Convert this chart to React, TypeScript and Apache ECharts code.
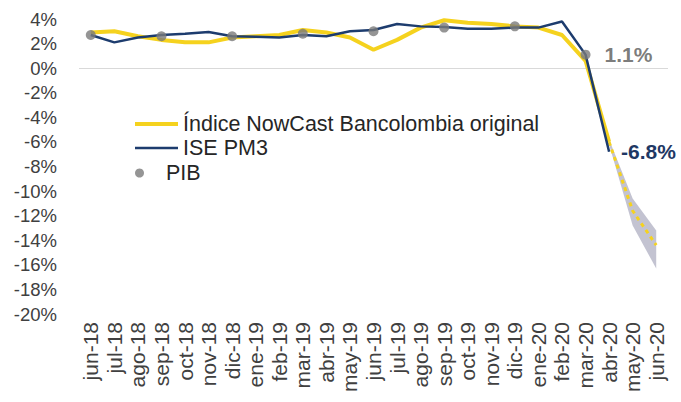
import React, { useEffect, useRef } from "react";
import * as echarts from "echarts";

const months = [
  "jun-18", "jul-18", "ago-18", "sep-18", "oct-18", "nov-18", "dic-18",
  "ene-19", "feb-19", "mar-19", "abr-19", "may-19", "jun-19", "jul-19",
  "ago-19", "sep-19", "oct-19", "nov-19", "dic-19", "ene-20", "feb-20",
  "mar-20", "abr-20", "may-20", "jun-20",
];

const nowcast = [
  2.9, 3.0, 2.6, 2.3, 2.1, 2.1, 2.5, 2.6, 2.7, 3.1, 2.9, 2.5, 1.5, 2.3,
  3.3, 3.9, 3.7, 3.6, 3.4, 3.3, 2.7, 0.6, -6.0, null, null,
];

const ise = [
  2.7, 2.1, 2.5, 2.7, 2.8, 2.95, 2.6, 2.55, 2.5, 2.7, 2.6, 3.0, 3.1, 3.6,
  3.4, 3.35, 3.2, 3.2, 3.3, 3.3, 3.8, 1.1, -6.8, null, null,
];

const pibMonths = ["jun-18", "sep-18", "dic-18", "mar-19", "jun-19", "sep-19", "dic-19", "mar-20"];
const pibValues = [2.7, 2.6, 2.6, 2.8, 3.0, 3.3, 3.4, 1.1];

const forecastMonths = ["abr-20", "may-20", "jun-20"];
const forecastCenter = [-6.0, -11.6, -14.4];
const forecastLow = [-6.2, -12.8, -16.3];
const forecastHigh = [-5.8, -10.6, -13.2];

const yTicks = { min: -20, max: 4, interval: 2 };

const FONT = "Liberation Sans, Arial, sans-serif";
const YELLOW = "#f5d21e";
const NAVY = "#1d3c6e";

export default function App() {
  const ref = useRef<HTMLDivElement>(null);

  useEffect(() => {
    document.body.style.margin = "0";
    if (!ref.current) return;
    const chart = echarts.init(ref.current, undefined, { renderer: "svg" });

    const align = (vals: number[]) =>
      months.map((m) => {
        const i = forecastMonths.indexOf(m);
        return i >= 0 ? vals[i] : null;
      });
    const bandBase = align(forecastLow);
    const bandWidth = align(forecastHigh.map((h, i) => h - forecastLow[i]));
    const center = align(forecastCenter);

    const legendText = { fontSize: 21.5, color: "#262626", fontFamily: FONT };

    chart.setOption({
      animation: false,
      textStyle: { fontFamily: FONT },
      grid: { left: 79, right: 13, top: 19, bottom: 88, containLabel: false },
      legend: [
        {
          data: [{ name: "Índice NowCast Bancolombia original", icon: "rect" }],
          left: 135,
          top: 113,
          padding: 0,
          itemWidth: 43,
          itemHeight: 4,
          selectedMode: false,
          textStyle: legendText,
        },
        {
          data: [{ name: "ISE PM3", icon: "rect" }],
          left: 135,
          top: 137,
          padding: 0,
          itemWidth: 43,
          itemHeight: 2.5,
          selectedMode: false,
          textStyle: legendText,
        },
        {
          data: [{ name: "PIB", icon: "circle" }],
          left: 135,
          top: 162,
          padding: 0,
          itemWidth: 43,
          itemHeight: 9,
          selectedMode: false,
          textStyle: legendText,
        },
      ],
      xAxis: {
        type: "category",
        data: months,
        boundaryGap: true,
        axisLine: { show: false },
        axisTick: { show: false },
        axisLabel: {
          rotate: 90,
          interval: 0,
          fontSize: 21,
          margin: 8,
          color: "#404040",
          fontFamily: FONT,
        },
      },
      yAxis: {
        type: "value",
        min: yTicks.min,
        max: yTicks.max,
        interval: yTicks.interval,
        axisLine: { show: false },
        axisTick: { show: false },
        splitLine: { show: false },
        axisLabel: {
          formatter: "{value}%",
          fontSize: 18.5,
          margin: 22,
          color: "#404040",
          fontFamily: FONT,
        },
      },
      series: [
        {
          name: "bandBase",
          type: "line",
          stack: "band",
          stackStrategy: "all",
          data: bandBase,
          symbol: "none",
          lineStyle: { width: 0, opacity: 0 },
          areaStyle: { opacity: 0 },
          z: 1,
        },
        {
          name: "bandWidth",
          type: "line",
          stack: "band",
          stackStrategy: "all",
          data: bandWidth,
          symbol: "none",
          lineStyle: { width: 0, opacity: 0 },
          areaStyle: { color: "#b4b4c6", opacity: 0.8 },
          z: 1,
        },
        {
          name: "Índice NowCast Bancolombia original",
          type: "line",
          data: nowcast,
          symbol: "none",
          lineStyle: { color: YELLOW, width: 4 },
          itemStyle: { color: YELLOW },
          z: 2,
        },
        {
          name: "forecast",
          type: "line",
          data: center,
          symbol: "none",
          lineStyle: { color: YELLOW, width: 3, type: [4, 4] },
          z: 3,
        },
        {
          name: "ISE PM3",
          type: "line",
          data: ise,
          symbol: "none",
          lineStyle: { color: NAVY, width: 2.5 },
          itemStyle: { color: NAVY },
          z: 4,
          endLabel: {
            show: true,
            formatter: "-6.8%",
            color: "#1f3864",
            fontWeight: "bold",
            fontSize: 21,
            distance: 12,
            fontFamily: FONT,
          },
          markLine: {
            silent: true,
            symbol: "none",
            label: { show: false },
            lineStyle: { color: "#d9d9d9", width: 1, type: "solid" },
            data: [{ yAxis: 0 }],
            z: 0,
          },
        },
        {
          name: "PIB",
          type: "scatter",
          data: pibMonths.map((m, i) => [m, pibValues[i]]),
          symbolSize: 10,
          itemStyle: { color: "#7a7a7a" },
          z: 5,
          label: {
            show: true,
            position: "right",
            distance: 14,
            fontSize: 21,
            fontWeight: "bold",
            color: "#595959",
            fontFamily: FONT,
            formatter: (p: any) =>
              p.dataIndex === pibMonths.length - 1 ? `${p.value[1]}%` : "",
          },
        },
      ],
    });

    return () => chart.dispose();
  }, []);

  return <div ref={ref} style={{ width: 681, height: 402 }} />;
}
